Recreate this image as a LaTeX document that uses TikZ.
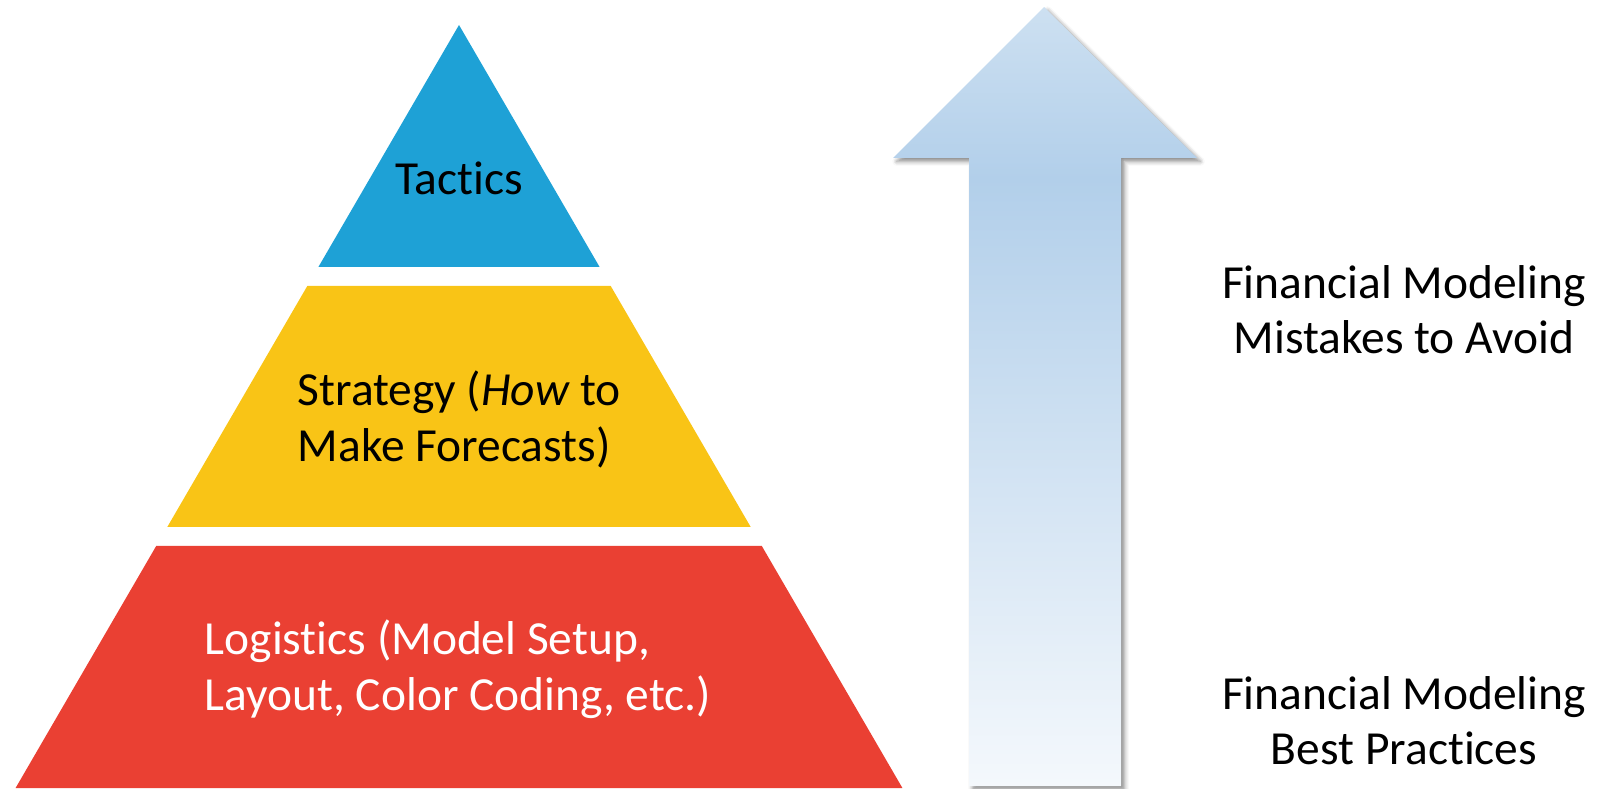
\documentclass[tikz,border=0pt]{standalone}
\usepackage{fontspec}
\setmainfont[Ligatures=NoCommon]{Carlito}
\usetikzlibrary{shadows.blur}
\definecolor{tacticblue}{HTML}{1EA1D6}
\definecolor{strategyyellow}{HTML}{F9C416}
\definecolor{logisticred}{HTML}{EA4033}
\definecolor{arrowtop}{HTML}{CDE0F1}
\definecolor{arrowmid}{HTML}{B2CFEA}
\definecolor{arrowbot}{HTML}{F4F8FC}
\pgfdeclareverticalshading{arrowfade}{100bp}{color(0bp)=(arrowbot); color(25bp)=(arrowbot); color(64bp)=(arrowmid); color(75bp)=(arrowtop); color(100bp)=(arrowtop)}

\begin{document}
\begin{tikzpicture}[x=0.01cm, y=-0.01cm,
  tiertext/.style={font=\fontsize{13.5}{16}\selectfont, inner sep=0pt, align=left},
  sidetext/.style={font=\fontsize{13.5}{15.7}\selectfont, inner sep=0pt, align=center}]
\useasboundingbox (0,0) rectangle (1598,789);

\fill[tacticblue] (459,25) -- (599.6,267) -- (318.4,267) -- cycle;
\fill[strategyyellow] (307.3,286) -- (610.7,286) -- (750.7,527) -- (167.3,527) -- cycle;
\fill[logisticred] (156.2,546) -- (761.8,546) -- (902.4,788) -- (15.6,788) -- cycle;

\node (tactics) [tiertext, anchor=base] at (459,195) {Tactics};
\node (strategy) [tiertext, anchor=north west] at (297,370) {Strategy (\textit{How} to\\Make Forecasts)};
\node (logistics) [tiertext, anchor=north west, text=white] at (204,619) {Logistics (Model Setup,\\Layout, Color Coding, etc.)};

\shade[shading=arrowfade, blur shadow={shadow xshift=1pt, shadow yshift=-1pt, shadow blur radius=1.2pt, shadow opacity=45}]
  (1044,7) -- (1197,158) -- (1121,158) -- (1121,786) -- (969,786) -- (969,158) -- (893,158) -- cycle;

\node (mistakes) [sidetext, anchor=north] at (1404,265) {Financial Modeling\\Mistakes to Avoid};
\node (practices) [sidetext, anchor=north] at (1404,676) {Financial Modeling\\Best Practices};
\end{tikzpicture}
\end{document}
